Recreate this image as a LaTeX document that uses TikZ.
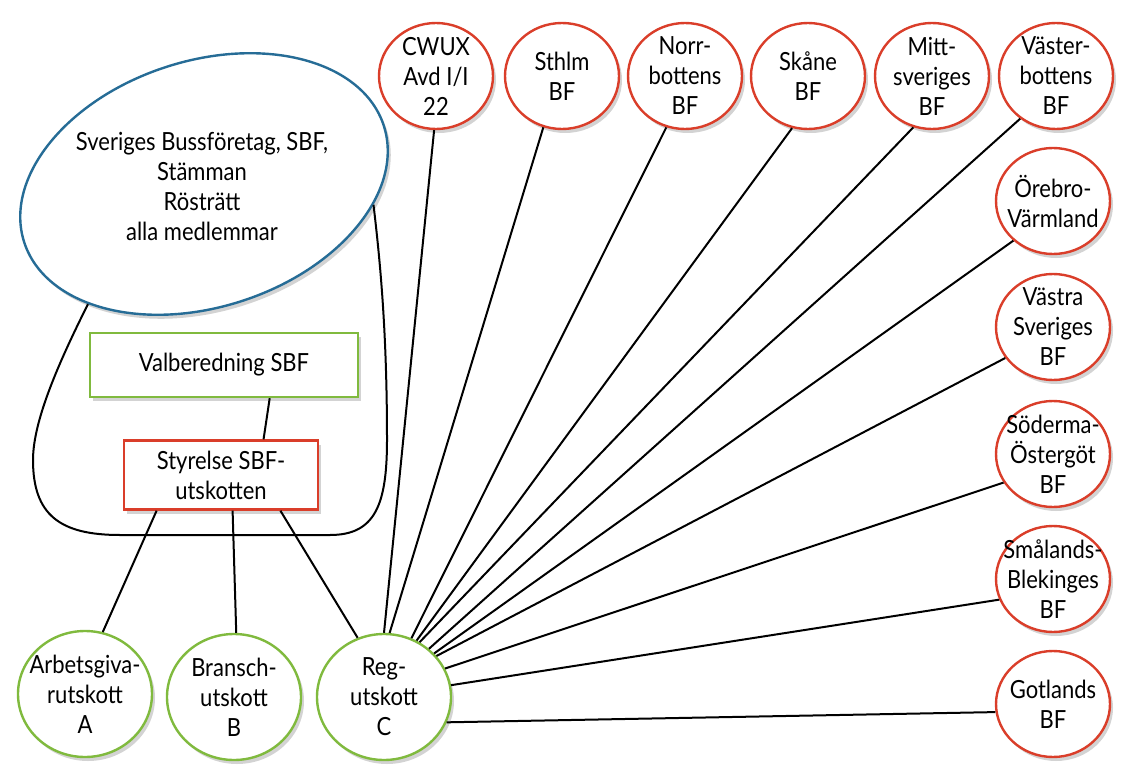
\documentclass[tikz,border=0pt]{standalone}
\usepackage{fontspec}
\setmainfont{Lato}[FakeStretch=0.88]
\usetikzlibrary{shapes.geometric,shadows}

\definecolor{sbfred}{RGB}{218,62,42}
\definecolor{sbfgreen}{RGB}{128,186,62}
\definecolor{sbfblue}{RGB}{38,108,150}

\begin{document}
\begin{tikzpicture}[x=1pt,y=-1pt,
  every node/.style={font=\fontsize{25}{30}\selectfont, align=center},
  shad/.style={drop shadow={shadow xshift=3pt,shadow yshift=-4pt,opacity=0.35}},
  distr/.style={ellipse, draw=sbfred, line width=2.4pt, fill=white, inner sep=-20pt,
    minimum width=114pt, minimum height=106pt, shad},
  utsk/.style={ellipse, draw=sbfgreen, line width=2.4pt, fill=white, inner sep=-20pt,
    minimum width=134pt, minimum height=126pt, shad},
  ruta/.style={rectangle, line width=2.4pt, fill=white, shad},
  link/.style={line width=2pt}]
  \useasboundingbox (0,0) rectangle (1132,781);

  % stämman
  \node[ellipse, draw=sbfblue, line width=2.4pt, fill=white, minimum width=378pt,
    minimum height=246pt, rotate=18, shad] (sbf) at (204,184) {};
  \node (sbftxt) at (202,186) {Sveriges Bussföretag, SBF,\\Stämman\\Rösträtt\\alla medlemmar};

  % styrelse
  \node[ruta, draw=sbfgreen, minimum width=268pt, minimum height=64pt] (valb) at (224,365) {Valberedning SBF};
  \node[ruta, draw=sbfred, minimum width=194pt, minimum height=69pt] (styr) at (221,475) {Styrelse SBF-\\utskotten};

  % utskott
  \node[utsk] (arb) at (85,694) {Arbetsgiva-\\rutskott\\A};
  \node[utsk] (bransch) at (234,697) {Bransch-\\utskott\\B};
  \node[utsk] (reg) at (384,697) {Reg-\\utskott\\C};

  % bussforeningar
  \node[distr] (cwux) at (436,76) {CWUX\\Avd I/I\\22};
  \node[distr] (sthlm) at (562,76) {Sthlm\\BF};
  \node[distr] (norr) at (685,76) {Norr-\\bottens\\BF};
  \node[distr] (skane) at (808,76) {Skåne\\BF};
  \node[distr] (mitt) at (932,76) {Mitt-\\sveriges\\BF};
  \node[distr] (vbotten) at (1056,76) {Väster-\\bottens\\BF};
  \node[distr] (orebro) at (1053,201) {Örebro-\\Värmland};
  \node[distr] (vastra) at (1053,327) {Västra\\Sveriges\\BF};
  \node[distr] (soder) at (1053,454) {Söderma-\\Östergöt\\BF};
  \node[distr] (smal) at (1053,579) {Smålands-\\Blekinges\\BF};
  \node[distr] (gotl) at (1053,704) {Gotlands\\BF};

  \draw[link] (sbf.-152) .. controls (60,360) and (33,420) .. (33,460)
    .. controls (33,515) and (60,535) .. (120,535) -- (330,535)
    .. controls (375,535) and (387,505) .. (387,440)
    .. controls (387,330) and (380,260) .. (sbf.-25);

  \draw[link] (valb.-36) -- (styr.40);
  \draw[link] (styr.-151) -- (arb.74);
  \draw[link] (styr.-72) -- (bransch.88);
  \draw[link] (styr.-31) -- (reg.114);

  \draw[link] (reg.90) -- (cwux.-92);
  \draw[link] (reg.85) -- (sthlm.-110);
  \draw[link] (reg.65) -- (norr.-110);
  \draw[link] (reg.60) -- (skane.-107);
  \draw[link] (reg.57) -- (mitt.-110);
  \draw[link] (reg.47) -- (vbotten.-130);
  \draw[link] (reg.41) -- (orebro.-135);
  \draw[link] (reg.38) -- (vastra.-147);
  \draw[link] (reg.25) -- (soder.-150);
  \draw[link] (reg.10) -- (smal.-159);
  \draw[link] (reg.-22) -- (gotl.-172);
\end{tikzpicture}
\end{document}
